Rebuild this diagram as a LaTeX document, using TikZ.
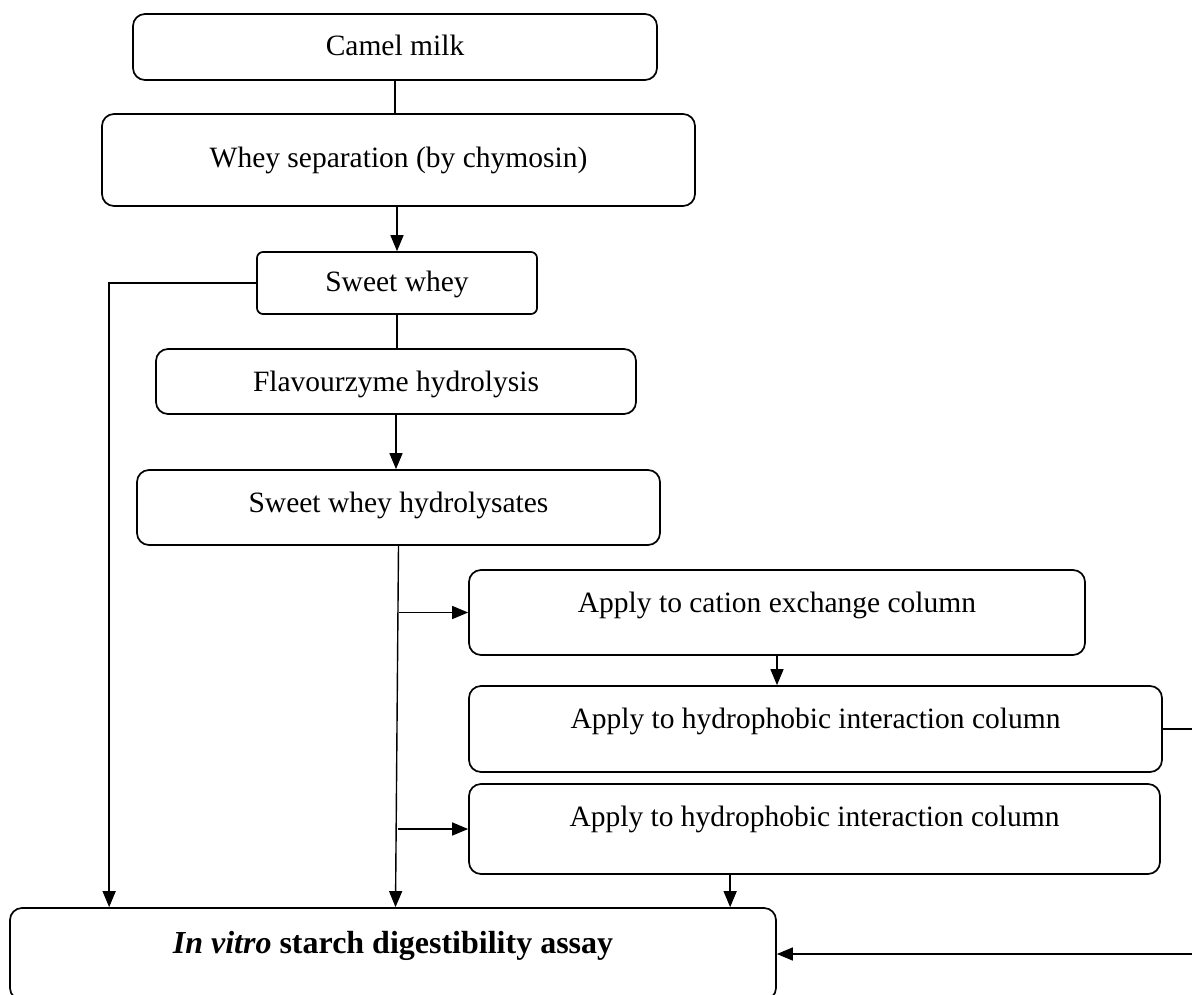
\documentclass[tikz,border=0pt]{standalone}
\usepackage{fontspec}
\setmainfont{Liberation Serif}
\usepackage{tikz}
\usetikzlibrary{arrows.meta,positioning}

\begin{document}
\begin{tikzpicture}[x=1pt,y=-1pt,
		stage/.style={draw,rounded corners=12pt,line width=1.7pt,inner sep=0pt,
			font=\fontsize{29.5}{35}\selectfont,text height=21pt},
		flow/.style={draw,line width=1.4pt},
		go/.style={flow,-{Triangle[length=16pt,width=13pt]}}]
		\useasboundingbox (0,0) rectangle (1192,994);
		% main line
		\node[stage,minimum width=524pt,minimum height=66pt,text depth=4pt] (camel) at (395,47) {Camel milk};
		\node[stage,minimum width=593pt,minimum height=92pt,text depth=7pt] (whey) at (398.5,160) {Whey separation (by chymosin)};
		\node[stage,rounded corners=6pt,minimum width=280pt,minimum height=62pt,text depth=5pt] (sweet) at (397,283) {Sweet whey};
		\node[stage,minimum width=480pt,minimum height=65pt,text depth=2pt] (flav) at (396,381.5) {Flavourzyme hydrolysis};
		\node[stage,minimum width=523pt,minimum height=75pt,text depth=12pt] (swh) at (398.5,507.5) {Sweet whey hydrolysates};
		% columns
		\node[stage,minimum width=616pt,minimum height=85pt,text depth=22pt] (cation) at (777,612.5) {Apply to cation exchange column};
		\node[stage,minimum width=693pt,minimum height=86pt,text depth=23pt] (hic1) at (815.5,729) {Apply to hydrophobic interaction column};
		\node[stage,minimum width=691pt,minimum height=90pt,text depth=27pt] (hic2) at (814.5,829) {Apply to hydrophobic interaction column};
		\node[stage,font=\fontsize{32}{38}\selectfont\bfseries,minimum width=766pt,minimum height=92pt,text depth=23pt] (assay) at (393,954) {\textit{In vitro} starch digestibility assay};

		\draw[flow] (camel.south) -- (camel.south |- whey.north);
		\draw[go] (sweet.north |- whey.south) -- (sweet.north);
		\draw[flow] (sweet.south) -- (sweet.south |- flav.north);
		\draw[go] (flav.south) -- (flav.south |- swh.north);
		\draw[go] (sweet.west) -| ([xshift=100pt]assay.north west);
		\draw[go] (swh.south) -- ([xshift=-3pt]swh.south |- assay.north);
		\draw[go] (cation.west -| swh.south) -- (cation.west);
		\draw[go] ([xshift=-1pt]hic2.west -| swh.south) -- (hic2.west);
		\draw[go] (cation.south) -- (cation.south |- hic1.north);
		\draw[go] ([xshift=262pt]hic2.south west) -- ([xshift=262pt]hic2.south west |- assay.north);
		\draw[go] (hic1.east) -- ++(45,0) |- (assay.east);
	\end{tikzpicture}
\end{document}
